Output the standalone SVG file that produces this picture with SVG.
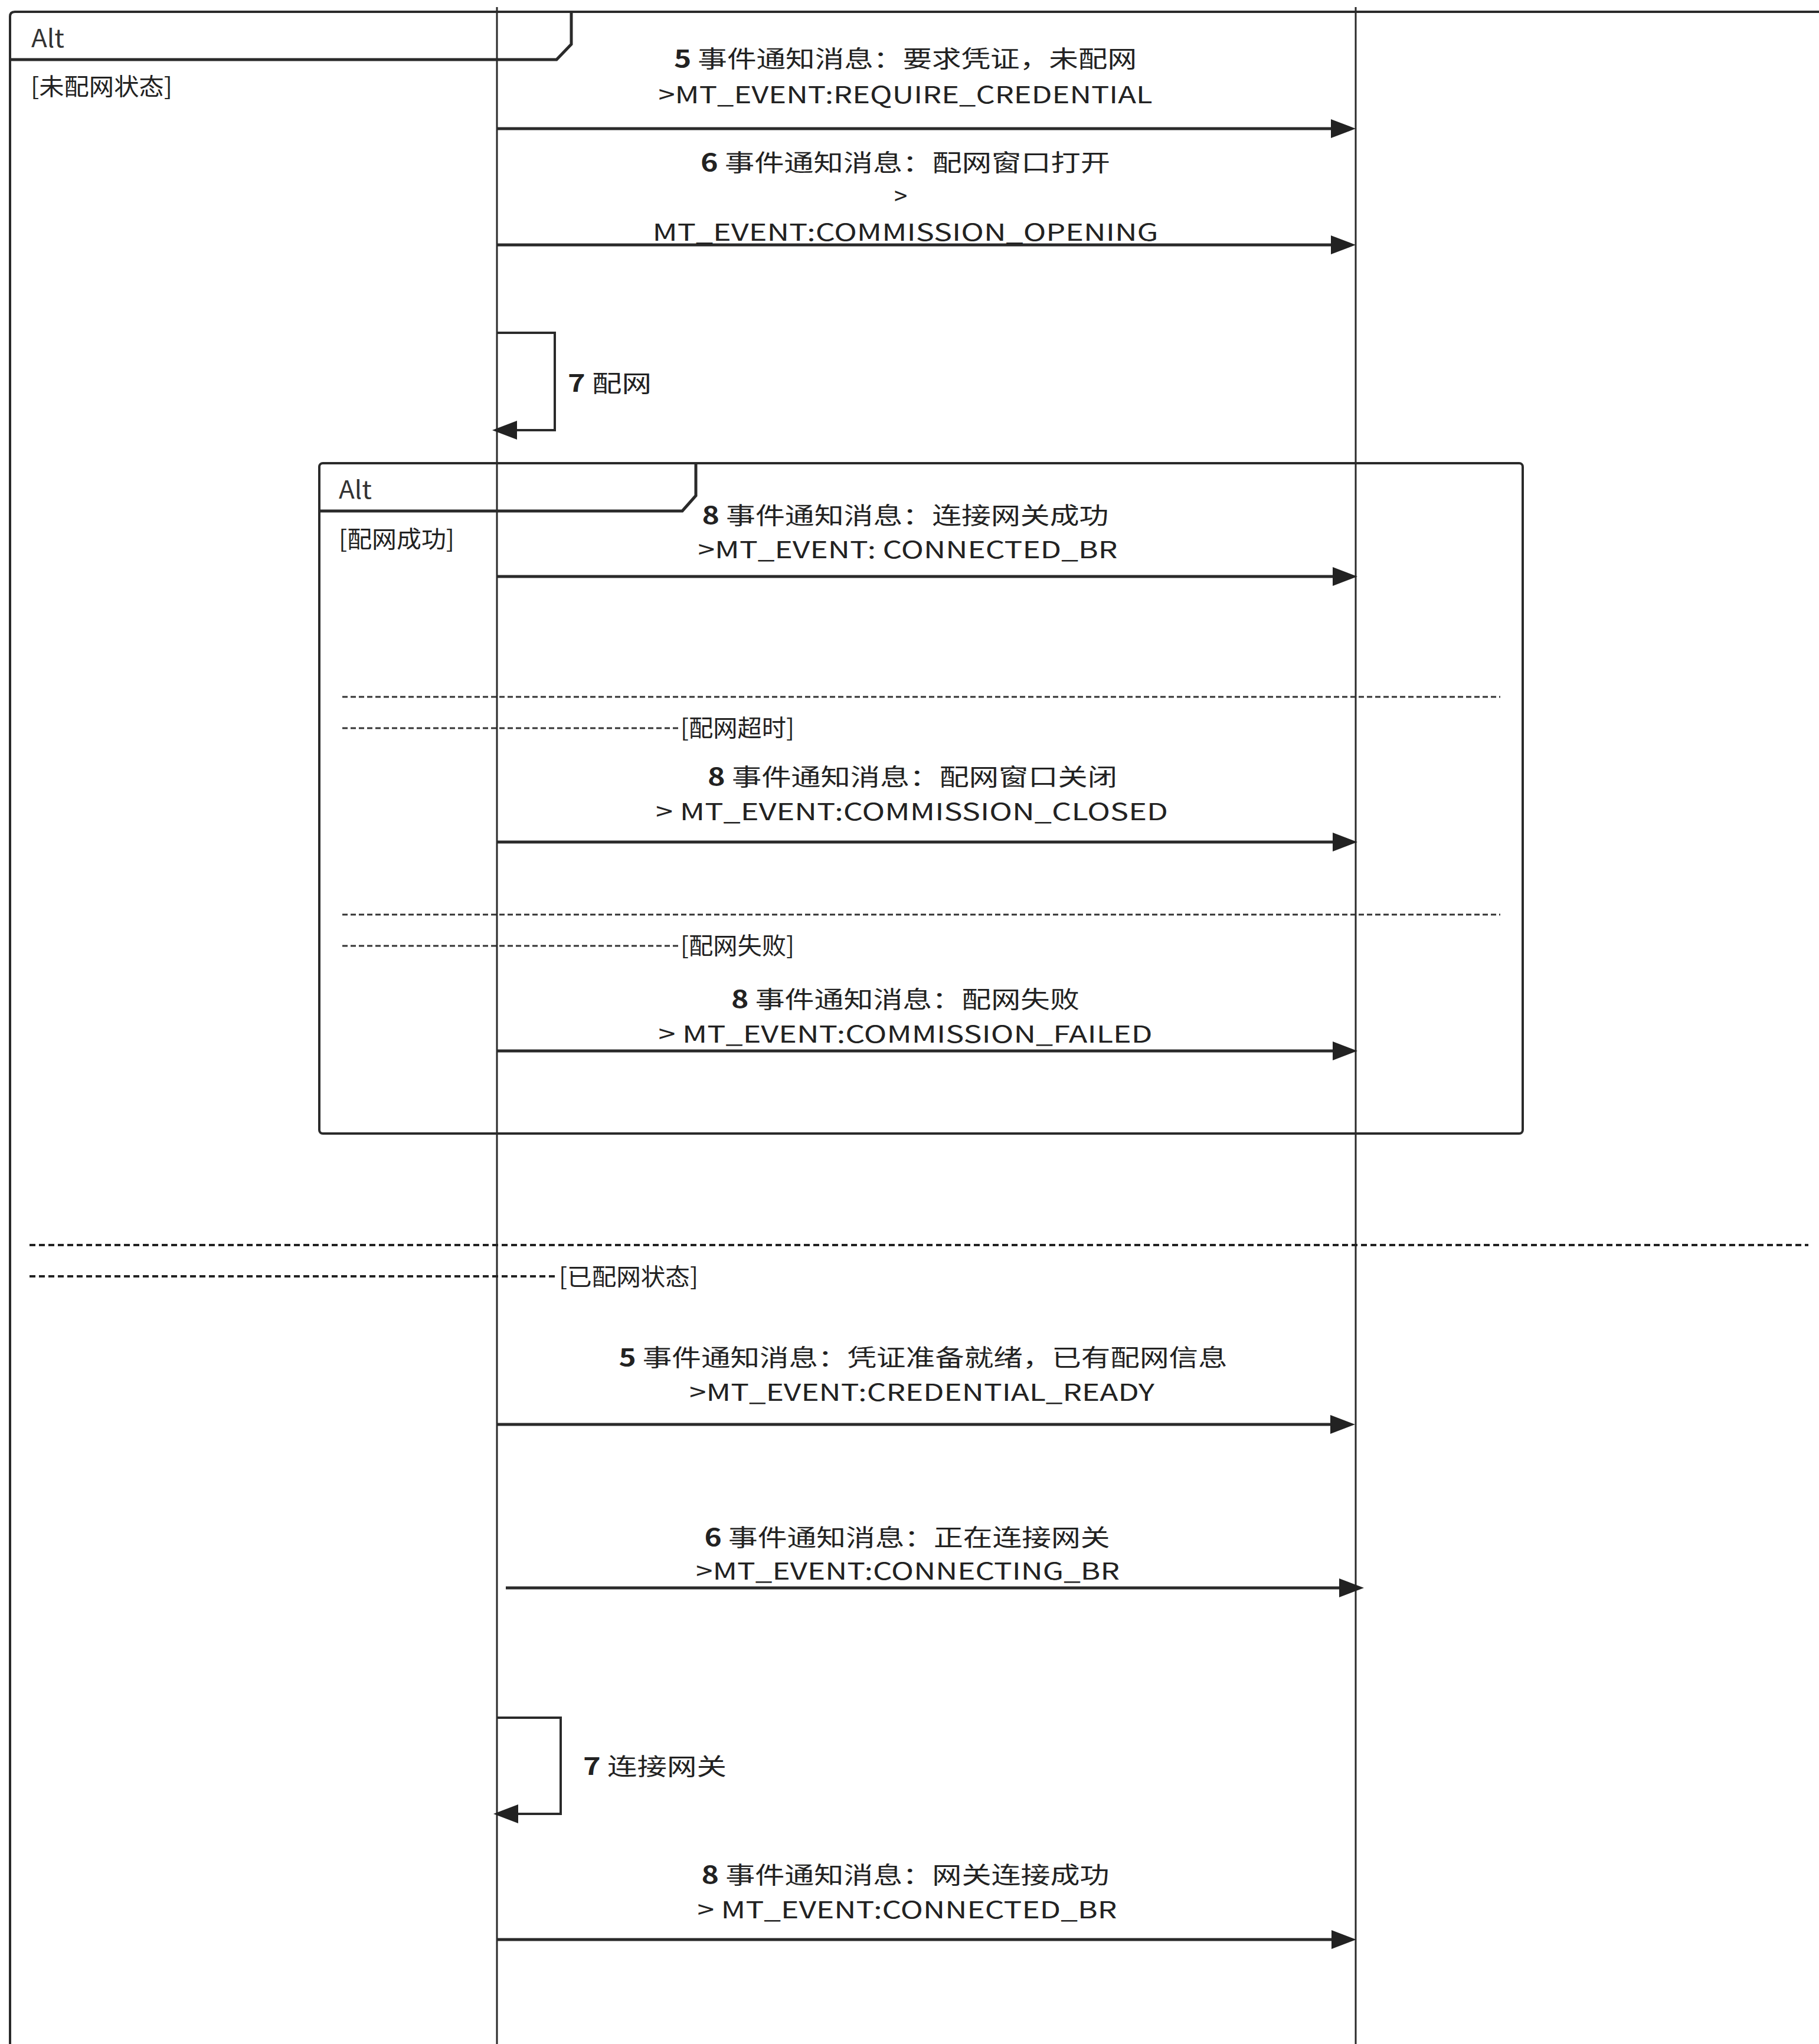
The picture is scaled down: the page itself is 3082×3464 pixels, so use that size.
<svg xmlns="http://www.w3.org/2000/svg" width="3082" height="3464" viewBox="0 0 3082 3464">
<style>
.t{font-family:"Noto Sans CJK SC","Noto Sans",sans-serif;font-size:40px;fill:#222}
.m{text-anchor:middle}
.b{font-weight:bold}
.alt{font-family:"Noto Sans CJK SC","Noto Sans",sans-serif;font-size:42px;fill:#333}
.frame{fill:none;stroke:#2a2a2a;stroke-width:4}
.tab{fill:none;stroke:#2a2a2a;stroke-width:5}
.life{stroke:#2a2a2a;stroke-width:3}
.msg{fill:none;stroke:#2a2a2a;stroke-width:5;marker-end:url(#ah)}
.self{fill:none;stroke:#2a2a2a;stroke-width:4;marker-end:url(#ah)}
.sepIn{stroke:#333;stroke-width:3;stroke-dasharray:9 5}
.sepOut{stroke:#222;stroke-width:4;stroke-dasharray:10 6}
</style>
<defs>
<marker id="ah" viewBox="0 0 42 32" refX="32" refY="16" markerWidth="42" markerHeight="32" markerUnits="userSpaceOnUse" orient="auto">
<path d="M0,0 L42,16 L0,32 Z" fill="#222"/>
</marker>
</defs>
<rect width="3082" height="3464" fill="#ffffff"/>

<g id="outer-alt">
<path class="frame" d="M17,3464 L17,28 Q17,20 25,20 L3082,20"/>
<path class="tab" d="M17,101 L943,101 L968,75 L968,20"/>
<text class="alt" x="53" y="80" textLength="56" lengthAdjust="spacingAndGlyphs">Alt</text>
<text class="t" x="52" y="161" textLength="240" lengthAdjust="spacingAndGlyphs">[未配网状态]</text>
</g>

<g id="lifelines">
<line id="lifeline-a" class="life" x1="842" y1="12" x2="842" y2="3464"/>
<line id="lifeline-b" class="life" x1="2297" y1="12" x2="2297" y2="3464"/>
</g>

<g id="inner-alt">
<rect class="frame" x="541" y="785" width="2039" height="1136" rx="6"/>
<path class="tab" d="M541,866 L1156,866 L1179,840 L1179,785"/>
<text class="alt" x="574" y="845" textLength="56" lengthAdjust="spacingAndGlyphs">Alt</text>
<text class="t" x="574" y="928" textLength="196" lengthAdjust="spacingAndGlyphs">[配网成功]</text>
<line class="sepIn" x1="580" y1="1181" x2="2542" y2="1181"/>
<line class="sepIn" x1="580" y1="1234" x2="1149" y2="1234"/>
<text class="t" x="1153" y="1248" textLength="193" lengthAdjust="spacingAndGlyphs">[配网超时]</text>
<line class="sepIn" x1="580" y1="1550" x2="2542" y2="1550"/>
<line class="sepIn" x1="580" y1="1603" x2="1149" y2="1603"/>
<text class="t" x="1153" y="1617" textLength="193" lengthAdjust="spacingAndGlyphs">[配网失败]</text>
</g>

<g id="outer-separator">
<line class="sepOut" x1="50" y1="2110" x2="3064" y2="2110"/>
<line class="sepOut" x1="50" y1="2163" x2="942" y2="2163"/>
<text class="t" x="947" y="2178" textLength="236" lengthAdjust="spacingAndGlyphs">[已配网状态]</text>
</g>

<g id="connectors">
<path id="c1" class="msg" d="M842,218 L2287,218"/>
<path id="c2" class="msg" d="M842,415 L2287,415"/>
<path id="c3" class="self" d="M842,564 L940,564 L940,729 L844,729"/>
<path id="c4" class="msg" d="M842,977 L2290,977"/>
<path id="c5" class="msg" d="M842,1427 L2290,1427"/>
<path id="c6" class="msg" d="M842,1781 L2290,1781"/>
<path id="c7" class="msg" d="M842,2414 L2286,2414"/>
<path id="c8" class="msg" d="M857,2691 L2301,2691"/>
<path id="c9" class="self" d="M843,2911 L950,2911 L950,3074 L846,3074"/>
<path id="c10" class="msg" d="M842,3287 L2288,3287"/>
</g>

<g id="labels">
<g id="l1">
<text class="t m" x="1534" y="114" textLength="784" lengthAdjust="spacingAndGlyphs"><tspan class="b">5</tspan> 事件通知消息：要求凭证，未配网</text>
<text class="t m" x="1534" y="175" textLength="837" lengthAdjust="spacingAndGlyphs">&gt;MT_EVENT:REQUIRE_CREDENTIAL</text>
</g>
<g id="l2">
<text class="t m" x="1534" y="290" textLength="694" lengthAdjust="spacingAndGlyphs"><tspan class="b">6</tspan> 事件通知消息：配网窗口打开</text>
<text class="t m" x="1526" y="347">&gt;</text>
<text class="t m" x="1534" y="408" textLength="857" lengthAdjust="spacingAndGlyphs">MT_EVENT:COMMISSION_OPENING</text>
</g>
<g id="l3">
<text class="t" x="962" y="664" textLength="142" lengthAdjust="spacingAndGlyphs"><tspan class="b">7</tspan> 配网</text>
</g>
<g id="l4">
<text class="t m" x="1534" y="888" textLength="689" lengthAdjust="spacingAndGlyphs"><tspan class="b">8</tspan> 事件通知消息：连接网关成功</text>
<text class="t m" x="1538" y="946" textLength="711" lengthAdjust="spacingAndGlyphs">&gt;MT_EVENT: CONNECTED_BR</text>
</g>
<g id="l5">
<text class="t m" x="1546" y="1331" textLength="694" lengthAdjust="spacingAndGlyphs"><tspan class="b">8</tspan> 事件通知消息：配网窗口关闭</text>
<text class="t m" x="1545" y="1390" textLength="868" lengthAdjust="spacingAndGlyphs">&gt; MT_EVENT:COMMISSION_CLOSED</text>
</g>
<g id="l6">
<text class="t m" x="1534" y="1708" textLength="590" lengthAdjust="spacingAndGlyphs"><tspan class="b">8</tspan> 事件通知消息：配网失败</text>
<text class="t m" x="1534" y="1767" textLength="837" lengthAdjust="spacingAndGlyphs">&gt; MT_EVENT:COMMISSION_FAILED</text>
</g>
<g id="l7">
<text class="t m" x="1564" y="2315" textLength="1031" lengthAdjust="spacingAndGlyphs"><tspan class="b">5</tspan> 事件通知消息：凭证准备就绪，已有配网信息</text>
<text class="t m" x="1562" y="2374" textLength="788" lengthAdjust="spacingAndGlyphs">&gt;MT_EVENT:CREDENTIAL_READY</text>
</g>
<g id="l8">
<text class="t m" x="1537" y="2620" textLength="687" lengthAdjust="spacingAndGlyphs"><tspan class="b">6</tspan> 事件通知消息：正在连接网关</text>
<text class="t m" x="1538" y="2677" textLength="718" lengthAdjust="spacingAndGlyphs">&gt;MT_EVENT:CONNECTING_BR</text>
</g>
<g id="l9">
<text class="t" x="988" y="3008" textLength="243" lengthAdjust="spacingAndGlyphs"><tspan class="b">7</tspan> 连接网关</text>
</g>
<g id="l10">
<text class="t m" x="1534" y="3192" textLength="691" lengthAdjust="spacingAndGlyphs"><tspan class="b">8</tspan> 事件通知消息：网关连接成功</text>
<text class="t m" x="1537" y="3251" textLength="711" lengthAdjust="spacingAndGlyphs">&gt; MT_EVENT:CONNECTED_BR</text>
</g>
</g>
</svg>
